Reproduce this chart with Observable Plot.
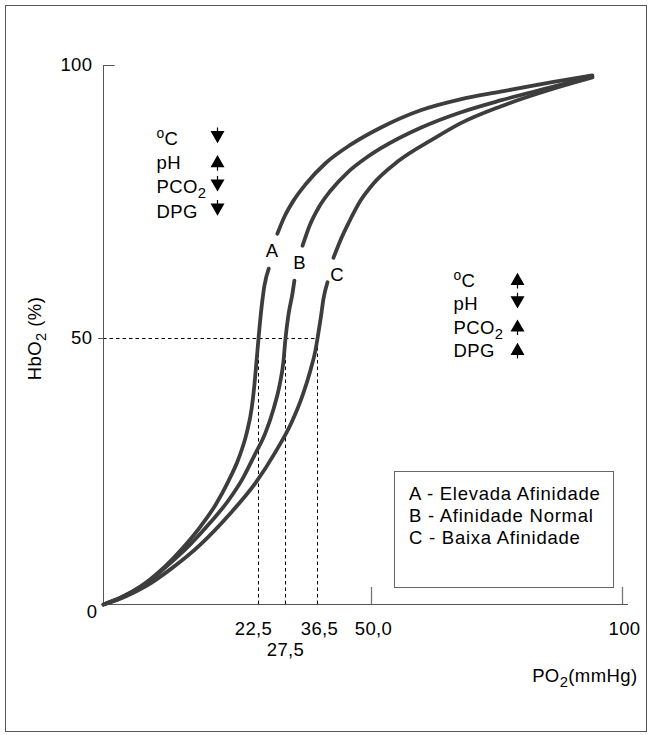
<!DOCTYPE html>
<html>
<head>
<meta charset="utf-8">
<script src="https://cdn.jsdelivr.net/npm/d3@7"></script>
<script src="https://cdn.jsdelivr.net/npm/@observablehq/plot@0.6"></script>
<style>
  html, body { margin: 0; padding: 0; background: #fff; }
  #border { position: absolute; left: 5px; top: 5px; width: 642px; height: 727px; box-sizing: border-box; border: 1px solid #555; }
  #chart { position: absolute; left: 0; top: 0; }
  #legend { position: absolute; left: 394px; top: 471px; width: 220px; height: 117px; box-sizing: border-box;
            border: 1px solid #666; background: #fff; font-family: "Liberation Sans", Arial, sans-serif;
            font-size: 18.5px; letter-spacing: 0.75px; line-height: 22px; padding: 11px 0 0 14px; color: #000; }
</style>
</head>
<body>
<div id="border"></div>
<div id="chart"></div>
<div id="legend"></div>
<script>
// ---- data ----
const curveNames = ["A", "B", "C"];
// PO2 (mmHg) and HbO2 (%) along each dissociation curve; null marks the gap where the letter sits
const po2A = [0, 2.5, 5.4, 8.3, 11.2, 14.1, 16.3, 18.1, 19.6, 20.8, 21.5, 21.9, 22.2, 22.5, 23.1, 23.6, 24.4, null, 26.0, 27.3, 29.8, 33.1, 38.5, 44.8, 51.8, 59.8, 67.7, 75.7, 85.7, 94.0];
const hbA  = [0, 1.3, 3.4, 6.4, 10.2, 14.7, 18.8, 23.1, 27.4, 32.3, 36.8, 41.2, 45.5, 50.0, 56.0, 59.7, 62.8, null, 69.2, 72.3, 75.3, 78.2, 82.1, 85.5, 88.6, 91.8, 93.8, 95.2, 96.9, 98.2];
const po2B = [0, 3.2, 6.1, 9.0, 12.6, 15.5, 18.1, 20.3, 21.9, 23.8, 25.3, 26.4, 27.1, 27.5, 28.3, 29.5, 30.0, null, 32.3, 34.3, 36.8, 39.8, 44.0, 48.5, 51.8, 59.8, 67.7, 75.7, 85.7, 94.0];
const hbB  = [0, 1.7, 3.9, 7.0, 11.3, 15.4, 19.5, 23.9, 28.0, 32.3, 36.8, 41.2, 45.5, 50.0, 54.2, 58.4, 60.6, null, 67.0, 70.7, 74.0, 77.1, 80.4, 83.0, 84.8, 88.6, 91.4, 93.6, 96.0, 98.0];
const po2C = [0, 3.2, 6.1, 9.7, 14.1, 18.4, 22.1, 25.6, 29.2, 32.3, 34.5, 35.9, 36.5, 37.3, 38.0, 39.0, null, 40.5, 42.3, 44.3, 47.3, 50.4, 55.2, 62.4, 67.7, 75.7, 85.7, 94.0];
const hbC  = [0, 1.5, 3.4, 6.6, 11.3, 17.1, 22.9, 28.6, 34.2, 39.3, 44.0, 47.7, 50.0, 53.7, 57.3, 60.3, null, 64.8, 68.1, 71.2, 75.3, 78.4, 82.4, 86.6, 89.4, 92.5, 95.6, 97.8];
// P50 of each curve
const p50Values = [22.5, 27.5, 36.5];
const p50Level = 50;
// axis ticks (the printed axis is schematic: tick spacing is not proportional)
const xTickValues = [22.5, 27.5, 36.5, 50, 100];
const xTickLabels = ["22,5", "27,5", "36,5", "50,0", "100"];
const xMajorTicks = [50, 100];
const yTickValues = [0, 50, 100];
const yTickLabels = ["0", "50", "100"];
// annotations
const legendLines = ["A - Elevada Afinidade", "B - Afinidade Normal", "C - Baixa Afinidade"];
const factors = ["ºC", "pH", "PCO₂", "DPG"];
const leftArrows = ["down", "up", "down", "down"];
const rightArrows = ["up", "down", "up", "up"];
const xTitle = "PO₂(mmHg)";
const yTitle = "HbO₂ (%)";

// schematic (piecewise) placement of the printed axes
const xBreaks = [0, 22.5, 27.5, 36.5, 50, 100];
const xPlaces = [0, 155, 182, 214, 268, 519];
const yBreaks = [0, 50, 100];
const yPlaces = [0, 266, 539];
const xPiece = d3.scaleLinear().domain(xBreaks).range(xPlaces);
const yPiece = d3.scaleLinear().domain(yBreaks).range(yPlaces);
const guard = s => d => (d == null || Number.isNaN(+d)) ? NaN : s(d);

// ---- build table ----
const curves = [[po2A, hbA], [po2B, hbB], [po2C, hbC]];
const rows = curves.flatMap(([xs, ys], k) => xs.map((x, i) => ({curve: curveNames[k], po2: x, hb: ys[i]})));
const letterPos = [[25.0, 66.0], [31.5, 63.9], [41.4, 61.7]];
const letters = curveNames.map((c, i) => ({c, x: letterPos[i][0], y: letterPos[i][1]}));

// arrow glyph: filled triangle with a short stem
const arrowSymbol = {
  draw(ctx) {
    ctx.moveTo(0, -6.2); ctx.lineTo(7, 6); ctx.lineTo(-7, 6); ctx.closePath();
    ctx.moveTo(-0.6, 5); ctx.lineTo(0.6, 5); ctx.lineTo(0.6, 9.5); ctx.lineTo(-0.6, 9.5); ctx.closePath();
  }
};

const font = "'Liberation Sans', Arial, sans-serif";
const lineColor = "#3d3d3d";
const axisColor = "#555";

const annotationMarks = (dx0, dy0, step, arrows, arrowDx) => [
  ...factors.map((f, i) => Plot.text([f], {frameAnchor: "top-left", dx: dx0, dy: dy0 + i * step, textAnchor: "start", lineAnchor: "middle"})),
  ...arrows.map((a, i) => Plot.dot([a], {frameAnchor: "top-left", dx: arrowDx, dy: dy0 - 2 + i * step, symbol: arrowSymbol, r: 6, fill: "#000", stroke: "none", rotate: a === "down" ? 180 : 0}))
];

const chart = Plot.plot({
  width: 657,
  height: 735,
  marginLeft: 103, marginRight: 35, marginTop: 65, marginBottom: 131,
  x: {transform: guard(xPiece), domain: [0, 519], axis: null},
  y: {transform: guard(yPiece), domain: [0, 539], axis: null},
  style: {fontFamily: font, fontSize: "18.5px", letterSpacing: "0.4px", background: "transparent", overflow: "visible"},
  marks: [
    // guide lines at P50
    Plot.ruleY([p50Level], {x1: 0, x2: p50Values[p50Values.length - 1], stroke: "#000", strokeWidth: 1, strokeDasharray: "3.5,3"}),
    Plot.ruleX(p50Values, {y1: 0, y2: p50Level, stroke: "#000", strokeWidth: 1, strokeDasharray: "3.5,3"}),
    // axes
    Plot.ruleX([0], {y1: 0, y2: 100, stroke: axisColor, strokeWidth: 1}),
    Plot.ruleY([0], {x1: 0, x2: 101.2, stroke: axisColor, strokeWidth: 1}),
    Plot.ruleY([100], {x1: 0, x2: 1.7, stroke: axisColor, strokeWidth: 1}),
    Plot.ruleY([50], {x1: -0.7, x2: 0, stroke: axisColor, strokeWidth: 1}),
    Plot.ruleX(xMajorTicks, {y1: 0, y2: 3.2, stroke: "#777", strokeWidth: 1.3}),
    // tick labels
    Plot.text(yTickValues, {x: 0, y: d => d, text: (d, i) => yTickLabels[i], textAnchor: "end", dx: -11, filter: d => d !== 0}),
    Plot.text(yTickValues, {x: 0, y: d => d, text: (d, i) => yTickLabels[i], textAnchor: "end", dx: -6, dy: 8, filter: d => d === 0}),
    Plot.text(xTickValues, {x: d => d, y: 0, text: (d, i) => xTickLabels[i], dy: 25, dx: -5, filter: (d, i) => i === 0}),
    Plot.text(xTickValues, {x: d => d, y: 0, text: (d, i) => xTickLabels[i], dy: 46, filter: (d, i) => i === 1}),
    Plot.text(xTickValues, {x: d => d, y: 0, text: (d, i) => xTickLabels[i], dy: 25, dx: 2, filter: (d, i) => i > 1}),
    // axis titles
    Plot.text([yTitle], {x: 0, y: 50, dx: -68, rotate: -90, textAnchor: "middle"}),
    Plot.text([xTitle], {x: 100, y: 0, dx: 15, dy: 72, textAnchor: "end"}),
    // curves
    Plot.line(rows, {x: "po2", y: "hb", z: "curve", stroke: lineColor, strokeWidth: 3.8, curve: "monotone-x"}),
    Plot.text(letters, {x: "x", y: "y", text: "c"}),
    // factor annotations
    ...annotationMarks(53, 73.5, 24.2, leftArrows, 114),
    ...annotationMarks(350, 215.5, 23.3, rightArrows, 414)
  ]
});

// subscripts / raised "o" as real text tspans
d3.select(chart).selectAll("text").each(function () {
  const s = this.textContent;
  if (!/[₂º]/.test(s)) return;
  const el = d3.select(this);
  el.text(null);
  let shift = 0;
  for (const part of s.match(/º|₂|[^º₂]+/g)) {
    if (part === "₂") { el.append("tspan").attr("dy", 5).attr("font-size", "0.8em").text("2"); shift = -5; }
    else if (part === "º") { el.append("tspan").attr("dy", -7).attr("font-size", "0.75em").text("o"); shift = 7; }
    else { const ts = el.append("tspan").text(part); if (shift) ts.attr("dy", shift); shift = 0; }
  }
});

document.getElementById("chart").append(chart);
const legend = document.getElementById("legend");
legendLines.forEach(t => { const d = document.createElement("div"); d.textContent = t; legend.append(d); });
</script>
</body>
</html>
